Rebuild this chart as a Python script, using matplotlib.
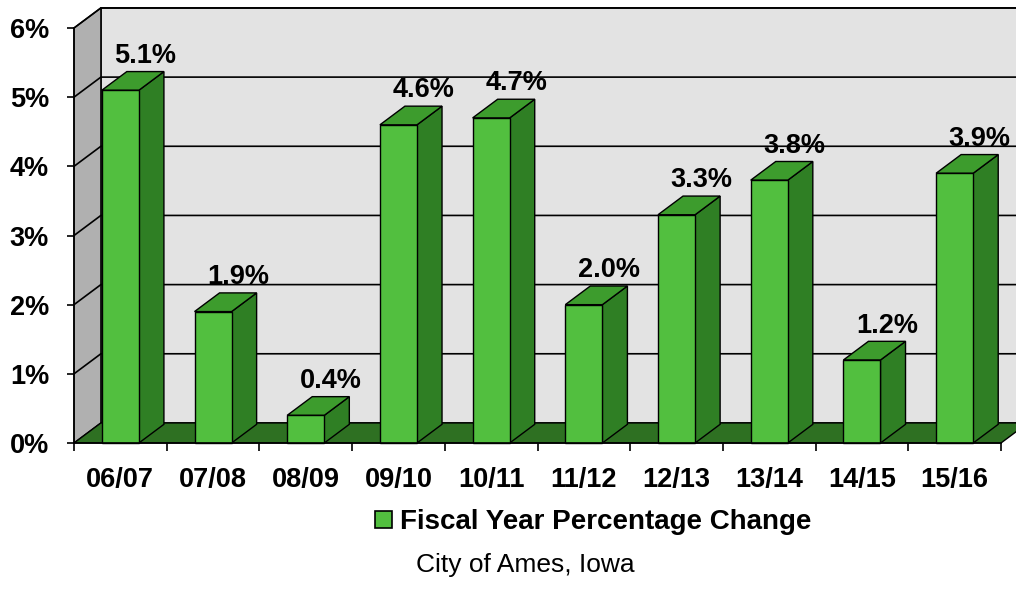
import matplotlib
matplotlib.use("Agg")
import matplotlib.pyplot as plt
from matplotlib.patches import Polygon, Patch

plt.rcParams["font.family"] = ["Liberation Sans", "DejaVu Sans"]

years = ["06/07", "07/08", "08/09", "09/10", "10/11",
         "11/12", "12/13", "13/14", "14/15", "15/16"]
changes = [5.1, 1.9, 0.4, 4.6, 4.7, 2.0, 3.3, 3.8, 1.2, 3.9]
y_ticks = [0, 1, 2, 3, 4, 5, 6]
y_tick_labels = ["0%", "1%", "2%", "3%", "4%", "5%", "6%"]
series_name = "Fiscal Year Percentage Change"
caption = "City of Ames, Iowa"

FRONT = "#52bf3f"
SIDE = "#2f7f24"
TOP = "#3d9c2d"
FLOOR = "#2e7022"
WALL = "#e3e3e3"
SIDE_WALL = "#b0b0b0"

# depth of the 3d box in data units (category / percent)
DX, DY = 0.29, 0.29
BDX, BDY = 0.27, 0.27
HALF = 0.2

fig = plt.figure(figsize=(10.16, 6.08), dpi=100)
ax = fig.add_axes([74 / 1016, 165 / 608, 927 / 1016, 415 / 608])
ax.set_xlim(-0.5, len(years) - 0.5)
ax.set_ylim(0, 6)
ax.patch.set_visible(False)

x0 = -0.5
x1 = len(years) - 0.5
top = y_ticks[-1]

# back wall and side wall
ax.add_patch(Polygon([(x0 + DX, DY), (x1 + 1, DY), (x1 + 1, top + DY), (x0 + DX, top + DY)],
                     closed=True, facecolor=WALL, edgecolor="black", lw=1.2, clip_on=False, zorder=1))
ax.add_patch(Polygon([(x0, 0), (x0 + DX, DY), (x0 + DX, top + DY), (x0, top)],
                     closed=True, facecolor=SIDE_WALL, edgecolor="black", lw=1.0, clip_on=False, zorder=1))

# gridlines on walls
for t in y_ticks[1:]:
    ax.plot([x0, x0 + DX, x1 + 1], [t, t + DY, t + DY], color="black", lw=1.2,
            clip_on=False, zorder=2)

# floor
ax.add_patch(Polygon([(x0, 0), (x1, 0), (x1 + DX, DY), (x0 + DX, DY)],
                     closed=True, facecolor=FLOOR, edgecolor="black", lw=1.0, clip_on=False, zorder=3))

# bars
for i, v in enumerate(changes):
    l, r = i - HALF, i + HALF
    ax.add_patch(Polygon([(r, 0), (r + BDX, BDY), (r + BDX, v + BDY), (r, v)],
                         closed=True, facecolor=SIDE, edgecolor="black", lw=1.0, clip_on=False, zorder=4))
    ax.add_patch(Polygon([(l, v), (r, v), (r + BDX, v + BDY), (l + BDX, v + BDY)],
                         closed=True, facecolor=TOP, edgecolor="black", lw=1.0, clip_on=False, zorder=4))
    ax.add_patch(Polygon([(l, 0), (r, 0), (r, v), (l, v)],
                         closed=True, facecolor=FRONT, edgecolor="black", lw=1.0, clip_on=False, zorder=5))
    ax.annotate(f"{v:.1f}%", xy=(i + BDX, v + BDY), xytext=(0, 2), textcoords="offset points",
                ha="center", va="bottom", fontsize=19.5, fontweight="bold",
                annotation_clip=False, zorder=6)

for side in ["top", "right"]:
    ax.spines[side].set_visible(False)
ax.spines["left"].set_zorder(6)
ax.spines["bottom"].set_zorder(6)
ax.spines["left"].set_linewidth(1.2)
ax.spines["bottom"].set_linewidth(1.2)

ax.set_yticks(y_ticks, y_tick_labels)
ax.tick_params(axis="y", length=5, width=1.2, pad=13, labelsize=19.5)
for lab in ax.get_yticklabels():
    lab.set_fontweight("bold")

ax.set_xticks(range(len(years)), years)
ax.set_xticks([k - 0.5 for k in range(len(years) + 1)], minor=True)
ax.tick_params(axis="x", which="major", length=0, pad=17, labelsize=19.5)
ax.tick_params(axis="x", which="minor", length=6, width=1.2)
for lab in ax.get_xticklabels():
    lab.set_fontweight("bold")

handle = Patch(facecolor=FRONT, edgecolor="black", lw=1.2)
fig.legend(handles=[handle], labels=[series_name], loc="center",
           bbox_to_anchor=(0.584, 0.141), frameon=False,
           handlelength=0.6, handleheight=0.6, handletextpad=0.3,
           prop={"size": 20, "weight": "bold"})
fig.text(0.517, 1 - 565 / 608, caption, ha="center", va="center", fontsize=19)

fig.savefig("out.png", dpi=100)
